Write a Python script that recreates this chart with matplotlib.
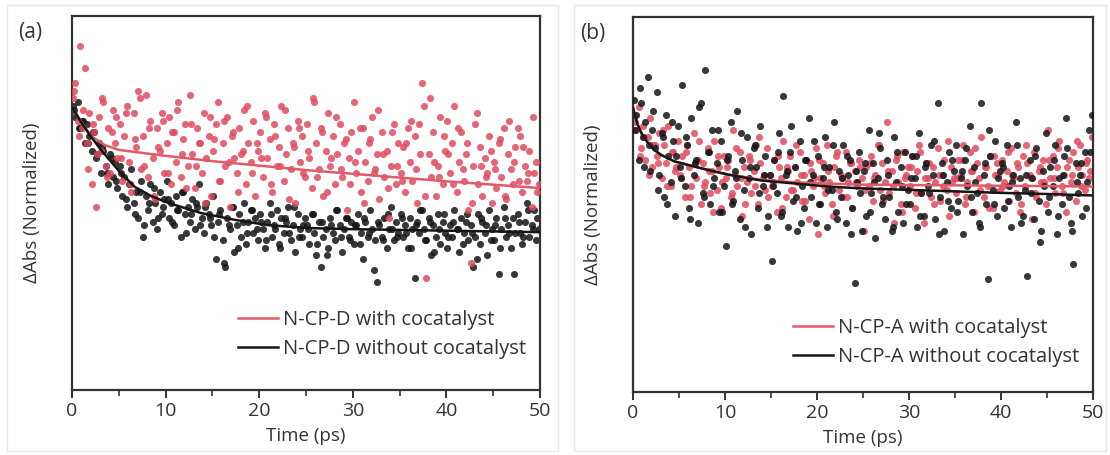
import numpy as np
import matplotlib
matplotlib.use("Agg")
import matplotlib.pyplot as plt
from matplotlib.patches import Rectangle

plt.rcParams['font.family'] = ['Open Sans', 'DejaVu Sans']

# Delay times (ps), main grid
time_ps = [
    0.10, 0.35, 0.60, 0.85, 1.10, 1.35, 1.60, 1.85, 2.10, 2.35,
    2.60, 2.85, 3.10, 3.35, 3.60, 3.85, 4.10, 4.35, 4.60, 4.85,
    5.10, 5.35, 5.60, 5.85, 6.10, 6.35, 6.60, 6.85, 7.10, 7.35,
    7.60, 7.85, 8.10, 8.35, 8.60, 8.85, 9.10, 9.35, 9.60, 9.85,
    10.10, 10.35, 10.60, 10.85, 11.10, 11.35, 11.60, 11.85, 12.10, 12.35,
    12.60, 12.85, 13.10, 13.35, 13.60, 13.85, 14.10, 14.35, 14.60, 14.85,
    15.10, 15.35, 15.60, 15.85, 16.10, 16.35, 16.60, 16.85, 17.10, 17.35,
    17.60, 17.85, 18.10, 18.35, 18.60, 18.85, 19.10, 19.35, 19.60, 19.85,
    20.10, 20.35, 20.60, 20.85, 21.10, 21.35, 21.60, 21.85, 22.10, 22.35,
    22.60, 22.85, 23.10, 23.35, 23.60, 23.85, 24.10, 24.35, 24.60, 24.85,
    25.10, 25.35, 25.60, 25.85, 26.10, 26.35, 26.60, 26.85, 27.10, 27.35,
    27.60, 27.85, 28.10, 28.35, 28.60, 28.85, 29.10, 29.35, 29.60, 29.85,
    30.10, 30.35, 30.60, 30.85, 31.10, 31.35, 31.60, 31.85, 32.10, 32.35,
    32.60, 32.85, 33.10, 33.35, 33.60, 33.85, 34.10, 34.35, 34.60, 34.85,
    35.10, 35.35, 35.60, 35.85, 36.10, 36.35, 36.60, 36.85, 37.10, 37.35,
    37.60, 37.85, 38.10, 38.35, 38.60, 38.85, 39.10, 39.35, 39.60, 39.85,
    40.10, 40.35, 40.60, 40.85, 41.10, 41.35, 41.60, 41.85, 42.10, 42.35,
    42.60, 42.85, 43.10, 43.35, 43.60, 43.85, 44.10, 44.35, 44.60, 44.85,
    45.10, 45.35, 45.60, 45.85, 46.10, 46.35, 46.60, 46.85, 47.10, 47.35,
    47.60, 47.85, 48.10, 48.35, 48.60, 48.85, 49.10, 49.35, 49.60, 49.85,
]

# second (interleaved) delay grid
time_ps2 = [
    0.22, 0.72, 1.22, 1.72, 2.22, 2.72, 3.22, 3.72, 4.22, 4.72,
    5.22, 5.72, 6.22, 6.72, 7.22, 7.72, 8.22, 8.72, 9.22, 9.72,
    10.22, 10.72, 11.22, 11.72, 12.22, 12.72, 13.22, 13.72, 14.22, 14.72,
    15.22, 15.72, 16.22, 16.72, 17.22, 17.72, 18.22, 18.72, 19.22, 19.72,
    20.22, 20.72, 21.22, 21.72, 22.22, 22.72, 23.22, 23.72, 24.22, 24.72,
    25.22, 25.72, 26.22, 26.72, 27.22, 27.72, 28.22, 28.72, 29.22, 29.72,
    30.22, 30.72, 31.22, 31.72, 32.22, 32.72, 33.22, 33.72, 34.22, 34.72,
    35.22, 35.72, 36.22, 36.72, 37.22, 37.72, 38.22, 38.72, 39.22, 39.72,
    40.22, 40.72, 41.22, 41.72, 42.22, 42.72, 43.22, 43.72, 44.22, 44.72,
    45.22, 45.72, 46.22, 46.72, 47.22, 47.72, 48.22, 48.72, 49.22, 49.72,
]

# (a) N-CP-D with cocatalyst
d_with = [
    0.78, 0.82, 0.72, 0.92, 0.70, 0.86, 0.66, 0.74, 0.55, 0.69,
    0.49, 0.73, 0.64, 0.77, 0.60, 0.70, 0.58, 0.75, 0.66, 0.62,
    0.71, 0.56, 0.68, 0.76, 0.61, 0.53, 0.74, 0.65, 0.80, 0.59,
    0.68, 0.79, 0.57, 0.72, 0.62, 0.51, 0.70, 0.64, 0.74, 0.58,
    0.66, 0.73, 0.55, 0.69, 0.61, 0.77, 0.57, 0.67, 0.71, 0.60,
    0.79, 0.63, 0.54, 0.70, 0.66, 0.58, 0.74, 0.62, 0.68, 0.52,
    0.64, 0.71, 0.77, 0.56, 0.66, 0.60, 0.73, 0.49, 0.68, 0.62,
    0.58, 0.70, 0.63, 0.75, 0.55, 0.66, 0.61, 0.72, 0.52, 0.64,
    0.69, 0.57, 0.74, 0.62, 0.67, 0.53, 0.71, 0.60, 0.65, 0.76,
    0.56, 0.63, 0.70, 0.59, 0.66, 0.50, 0.72, 0.61, 0.68, 0.57,
    0.71, 0.62, 0.54, 0.77, 0.66, 0.59, 0.70, 0.52, 0.64, 0.74,
    0.60, 0.68, 0.55, 0.63, 0.71, 0.57, 0.66, 0.48, 0.62, 0.69,
    0.77, 0.58, 0.64, 0.53, 0.70, 0.61, 0.56, 0.67, 0.73, 0.59,
    0.63, 0.51, 0.69, 0.57, 0.64, 0.46, 0.60, 0.71, 0.55, 0.66,
    0.58, 0.65, 0.53, 0.70, 0.61, 0.56, 0.68, 0.50, 0.71, 0.82,
    0.76, 0.30, 0.63, 0.57, 0.69, 0.52, 0.60, 0.73, 0.55, 0.64,
    0.72, 0.58, 0.66, 0.76, 0.53, 0.61, 0.69, 0.56, 0.63, 0.48,
    0.34, 0.60, 0.71, 0.55, 0.65, 0.52, 0.62, 0.58, 0.68, 0.50,
    0.61, 0.54, 0.66, 0.57, 0.70, 0.51, 0.63, 0.59, 0.55, 0.65,
    0.70, 0.68, 0.53, 0.60, 0.56, 0.64, 0.49, 0.58, 0.61, 0.55,
]
d_with2 = [
    0.80, 0.68, 0.75, 0.59, 0.71, 0.63, 0.78, 0.57, 0.69, 0.73,
    0.62, 0.74, 0.55, 0.67, 0.78, 0.60, 0.70, 0.52, 0.65, 0.72,
    0.58, 0.69, 0.75, 0.63, 0.54, 0.71, 0.60, 0.66, 0.50, 0.73,
    0.67, 0.56, 0.72, 0.61, 0.69, 0.53, 0.64, 0.76, 0.58, 0.66,
    0.62, 0.73, 0.55, 0.68, 0.60, 0.75, 0.51, 0.65, 0.70, 0.58,
    0.64, 0.78, 0.57, 0.69, 0.53, 0.62, 0.73, 0.59, 0.67, 0.55,
    0.61, 0.70, 0.50, 0.66, 0.58, 0.75, 0.63, 0.54, 0.69, 0.60,
    0.56, 0.66, 0.72, 0.59, 0.63, 0.52, 0.78, 0.61, 0.57, 0.68,
    0.63, 0.55, 0.70, 0.59, 0.66, 0.50, 0.74, 0.60, 0.57, 0.64,
    0.59, 0.67, 0.52, 0.72, 0.61, 0.56, 0.65, 0.58, 0.73, 0.53,
]

# (a) N-CP-D without cocatalyst
d_without = [
    0.76, 0.73, 0.77, 0.70, 0.72, 0.66, 0.71, 0.68, 0.64, 0.69,
    0.62, 0.66, 0.58, 0.64, 0.60, 0.55, 0.63, 0.57, 0.61, 0.54,
    0.60, 0.52, 0.57, 0.49, 0.55, 0.59, 0.50, 0.53, 0.46, 0.56,
    0.41, 0.52, 0.48, 0.55, 0.45, 0.50, 0.43, 0.53, 0.47, 0.51,
    0.56, 0.46, 0.50, 0.44, 0.52, 0.48, 0.41, 0.53, 0.47, 0.49,
    0.45, 0.51, 0.43, 0.49, 0.55, 0.46, 0.42, 0.50, 0.47, 0.44,
    0.52, 0.35, 0.45, 0.48, 0.40, 0.33, 0.46, 0.43, 0.49, 0.37,
    0.44, 0.47, 0.41, 0.50, 0.39, 0.45, 0.48, 0.42, 0.46, 0.40,
    0.47, 0.43, 0.38, 0.45, 0.50, 0.41, 0.44, 0.48, 0.39, 0.46,
    0.42, 0.45, 0.49, 0.40, 0.44, 0.37, 0.47, 0.43, 0.41, 0.46,
    0.44, 0.39, 0.47, 0.42, 0.36, 0.45, 0.33, 0.41, 0.43, 0.38,
    0.46, 0.42, 0.40, 0.48, 0.44, 0.37, 0.43, 0.46, 0.41, 0.45,
    0.39, 0.44, 0.47, 0.42, 0.35, 0.45, 0.41, 0.48, 0.43, 0.40,
    0.29, 0.44, 0.41, 0.46, 0.38, 0.43, 0.49, 0.40, 0.45, 0.42,
    0.47, 0.41, 0.44, 0.38, 0.46, 0.43, 0.30, 0.45, 0.42, 0.48,
    0.43, 0.40, 0.46, 0.36, 0.44, 0.41, 0.47, 0.39, 0.45, 0.42,
    0.38, 0.44, 0.41, 0.48, 0.43, 0.37, 0.46, 0.42, 0.45, 0.40,
    0.44, 0.33, 0.41, 0.47, 0.39, 0.45, 0.42, 0.36, 0.48, 0.43,
    0.40, 0.46, 0.31, 0.43, 0.49, 0.41, 0.44, 0.38, 0.46, 0.42,
    0.47, 0.42, 0.39, 0.45, 0.50, 0.41, 0.44, 0.48, 0.40, 0.43,
]
d_without2 = [
    0.75, 0.70, 0.72, 0.66, 0.69, 0.63, 0.65, 0.58, 0.62, 0.56,
    0.58, 0.51, 0.55, 0.47, 0.53, 0.44, 0.50, 0.54, 0.46, 0.49,
    0.51, 0.45, 0.48, 0.53, 0.42, 0.47, 0.50, 0.44, 0.49, 0.46,
    0.41, 0.47, 0.34, 0.44, 0.49, 0.38, 0.45, 0.42, 0.48, 0.43,
    0.45, 0.40, 0.47, 0.43, 0.38, 0.46, 0.42, 0.49, 0.41, 0.44,
    0.43, 0.47, 0.39, 0.45, 0.36, 0.44, 0.48, 0.41, 0.46, 0.40,
    0.44, 0.39, 0.46, 0.42, 0.32, 0.45, 0.40, 0.47, 0.43, 0.41,
    0.46, 0.42, 0.38, 0.44, 0.48, 0.40, 0.45, 0.37, 0.43, 0.47,
    0.41, 0.45, 0.43, 0.39, 0.47, 0.42, 0.35, 0.46, 0.44, 0.40,
    0.44, 0.38, 0.46, 0.42, 0.31, 0.45, 0.41, 0.48, 0.43, 0.46,
]

# (b) N-CP-A with cocatalyst
a_with = [
    0.74, 0.70, 0.76, 0.65, 0.71, 0.62, 0.68, 0.73, 0.60, 0.66,
    0.63, 0.69, 0.57, 0.66, 0.61, 0.71, 0.55, 0.64, 0.59, 0.67,
    0.58, 0.63, 0.52, 0.66, 0.60, 0.55, 0.69, 0.57, 0.62, 0.50,
    0.61, 0.56, 0.65, 0.53, 0.59, 0.67, 0.54, 0.60, 0.49, 0.63,
    0.57, 0.62, 0.52, 0.70, 0.58, 0.55, 0.64, 0.47, 0.60, 0.56,
    0.63, 0.53, 0.59, 0.66, 0.50, 0.61, 0.57, 0.54, 0.65, 0.58,
    0.55, 0.62, 0.48, 0.60, 0.57, 0.67, 0.52, 0.59, 0.63, 0.54,
    0.60, 0.56, 0.64, 0.51, 0.58, 0.62, 0.46, 0.59, 0.55, 0.65,
    0.42, 0.57, 0.61, 0.53, 0.66, 0.56, 0.50, 0.60, 0.63, 0.54,
    0.58, 0.52, 0.64, 0.56, 0.61, 0.49, 0.59, 0.55, 0.62, 0.57,
    0.43, 0.60, 0.55, 0.63, 0.51, 0.58, 0.66, 0.54, 0.61, 0.56,
    0.72, 0.53, 0.59, 0.45, 0.62, 0.56, 0.50, 0.64, 0.57, 0.60,
    0.55, 0.63, 0.49, 0.59, 0.66, 0.53, 0.45, 0.61, 0.57, 0.52,
    0.60, 0.56, 0.65, 0.51, 0.58, 0.62, 0.54, 0.47, 0.60, 0.57,
    0.53, 0.62, 0.58, 0.66, 0.50, 0.56, 0.64, 0.59, 0.48, 0.61,
    0.57, 0.68, 0.52, 0.60, 0.55, 0.63, 0.49, 0.58, 0.61, 0.54,
    0.62, 0.56, 0.59, 0.51, 0.65, 0.57, 0.53, 0.60, 0.48, 0.63,
    0.55, 0.61, 0.58, 0.46, 0.64, 0.52, 0.59, 0.56, 0.62, 0.50,
    0.70, 0.57, 0.63, 0.53, 0.60, 0.67, 0.55, 0.58, 0.48, 0.62,
    0.56, 0.64, 0.51, 0.60, 0.66, 0.58, 0.54, 0.62, 0.57, 0.68,
]
a_with2 = [
    0.72, 0.63, 0.68, 0.58, 0.66, 0.61, 0.70, 0.55, 0.64, 0.60,
    0.57, 0.64, 0.52, 0.61, 0.67, 0.55, 0.59, 0.48, 0.63, 0.56,
    0.60, 0.53, 0.65, 0.57, 0.50, 0.62, 0.55, 0.68, 0.58, 0.52,
    0.56, 0.63, 0.49, 0.60, 0.54, 0.66, 0.58, 0.51, 0.61, 0.57,
    0.62, 0.55, 0.59, 0.47, 0.64, 0.57, 0.52, 0.61, 0.56, 0.60,
    0.54, 0.61, 0.57, 0.66, 0.51, 0.59, 0.55, 0.63, 0.48, 0.58,
    0.60, 0.53, 0.64, 0.57, 0.61, 0.50, 0.58, 0.55, 0.67, 0.56,
    0.57, 0.62, 0.52, 0.59, 0.65, 0.54, 0.60, 0.49, 0.63, 0.58,
    0.55, 0.64, 0.58, 0.61, 0.50, 0.66, 0.57, 0.53, 0.60, 0.56,
    0.62, 0.57, 0.65, 0.53, 0.60, 0.58, 0.67, 0.55, 0.61, 0.59,
]

# (b) N-CP-A without cocatalyst
a_without = [
    0.78, 0.74, 0.62, 0.77, 0.68, 0.72, 0.84, 0.59, 0.70, 0.65,
    0.80, 0.58, 0.69, 0.52, 0.74, 0.63, 0.56, 0.67, 0.47, 0.71,
    0.60, 0.82, 0.55, 0.66, 0.49, 0.73, 0.58, 0.62, 0.45, 0.77,
    0.53, 0.86, 0.64, 0.50, 0.70, 0.57, 0.61, 0.48, 0.67, 0.55,
    0.39, 0.63, 0.72, 0.51, 0.59, 0.75, 0.46, 0.62, 0.54, 0.68,
    0.57, 0.42, 0.65, 0.60, 0.49, 0.71, 0.55, 0.63, 0.44, 0.58,
    0.35, 0.62, 0.53, 0.69, 0.47, 0.79, 0.58, 0.44, 0.64, 0.51,
    0.60, 0.43, 0.67, 0.55, 0.49, 0.62, 0.73, 0.52, 0.58, 0.45,
    0.63, 0.50, 0.57, 0.68, 0.44, 0.60, 0.54, 0.72, 0.48, 0.59,
    0.52, 0.66, 0.45, 0.58, 0.62, 0.49, 0.29, 0.56, 0.64, 0.43,
    0.59, 0.47, 0.70, 0.53, 0.61, 0.41, 0.57, 0.65, 0.50, 0.46,
    0.62, 0.52, 0.43, 0.68, 0.56, 0.48, 0.60, 0.45, 0.64, 0.54,
    0.50, 0.63, 0.57, 0.44, 0.69, 0.53, 0.47, 0.61, 0.55, 0.66,
    0.58, 0.46, 0.77, 0.52, 0.61, 0.43, 0.56, 0.64, 0.49, 0.59,
    0.66, 0.51, 0.57, 0.42, 0.62, 0.55, 0.71, 0.48, 0.60, 0.53,
    0.45, 0.77, 0.58, 0.50, 0.30, 0.63, 0.54, 0.67, 0.47, 0.59,
    0.61, 0.49, 0.66, 0.55, 0.44, 0.58, 0.72, 0.52, 0.57, 0.47,
    0.54, 0.31, 0.62, 0.57, 0.46, 0.65, 0.51, 0.43, 0.59, 0.69,
    0.48, 0.60, 0.55, 0.66, 0.42, 0.57, 0.50, 0.63, 0.73, 0.52,
    0.45, 0.34, 0.61, 0.53, 0.58, 0.47, 0.64, 0.56, 0.70, 0.74,
]
a_without2 = [
    0.70, 0.81, 0.60, 0.66, 0.75, 0.54, 0.68, 0.50, 0.72, 0.63,
    0.57, 0.68, 0.46, 0.61, 0.76, 0.52, 0.64, 0.55, 0.70, 0.48,
    0.62, 0.50, 0.57, 0.69, 0.44, 0.60, 0.66, 0.53, 0.58, 0.47,
    0.55, 0.64, 0.48, 0.59, 0.71, 0.52, 0.45, 0.62, 0.56, 0.67,
    0.50, 0.60, 0.54, 0.66, 0.46, 0.57, 0.63, 0.42, 0.59, 0.53,
    0.61, 0.48, 0.56, 0.69, 0.52, 0.58, 0.44, 0.64, 0.55, 0.50,
    0.57, 0.63, 0.47, 0.60, 0.53, 0.67, 0.42, 0.58, 0.51, 0.62,
    0.48, 0.59, 0.65, 0.52, 0.56, 0.44, 0.61, 0.70, 0.50, 0.57,
    0.60, 0.51, 0.56, 0.66, 0.45, 0.58, 0.53, 0.63, 0.40, 0.55,
    0.52, 0.62, 0.47, 0.58, 0.65, 0.43, 0.56, 0.61, 0.49, 0.64,
]

# Fit curves
fit_t_a = [0, 1, 2, 3.5, 5, 10, 15, 20, 25, 30, 35, 40, 45, 50]
fit_d_with = [0.754, 0.717, 0.68, 0.655, 0.642, 0.626, 0.612, 0.60, 0.588, 0.578, 0.568, 0.558, 0.549, 0.540]
fit_t_a2 = [0, 0.32, 1, 2, 3.1, 5, 6.7, 8.5, 10.3, 13.8, 17.4, 20.9, 25.2, 30, 35, 40, 50]
fit_d_without = [0.754, 0.743, 0.715, 0.678, 0.642, 0.586, 0.543, 0.518, 0.500, 0.473, 0.455, 0.441, 0.433, 0.430, 0.428, 0.426, 0.422]

fit_t_b = [0, 0.25, 0.5, 1, 1.6, 2.2, 3, 4.5, 6.7, 8.5, 10.3, 13.9, 17.6, 21.2, 24.8, 30, 35, 40, 45, 50]
fit_a_without = [0.758, 0.735, 0.713, 0.686, 0.665, 0.648, 0.633, 0.615, 0.601, 0.590, 0.580, 0.564, 0.556, 0.548, 0.543, 0.539, 0.535, 0.531, 0.528, 0.524]
fit_a_with = [0.758, 0.735, 0.713, 0.686, 0.665, 0.648, 0.633, 0.615, 0.601, 0.590, 0.580, 0.566, 0.559, 0.556, 0.553, 0.552, 0.551, 0.550, 0.549, 0.548]

red = '#e04a5e'
red_line = '#e25a68'
black = '#151515'
txt = '#333333'

fig = plt.figure(figsize=(11.1, 4.55), dpi=100)
# light panel frames
for x0, w in [(0.006, 0.497), (0.517, 0.479)]:
    fig.patches.append(Rectangle((x0, 0.008), w, 0.982, transform=fig.transFigure,
                                 fill=False, edgecolor='#e8e8e8', linewidth=1.0))

ax1 = fig.add_axes([0.0649, 0.1429, 0.4216, 0.8219])
ax2 = fig.add_axes([0.5703, 0.1385, 0.4144, 0.8241])

panels = [
    (ax1, '(a)', [d_with, d_with2], [d_without, d_without2], fit_t_a, fit_d_with,
     fit_t_a2, fit_d_without, 'N-CP-D with cocatalyst', 'N-CP-D without cocatalyst', 0.035),
    (ax2, '(b)', [a_with, a_with2], [a_without, a_without2], fit_t_b, fit_a_with,
     fit_t_b, fit_a_without, 'N-CP-A with cocatalyst', 'N-CP-A without cocatalyst', 0.018),
]

ms = 26
for ax, tag, y_red, y_blk, tr, fr, tb, fb, lab_r, lab_b, leg_y in panels:
    z_red, z_blk = (3, 2) if tag == '(a)' else (2, 3)
    for tt, yr, yb in [(time_ps, y_red[0], y_blk[0]), (time_ps2, y_red[1], y_blk[1])]:
        ax.scatter(tt, yb, s=ms, color=black, alpha=0.85, linewidths=0, zorder=z_blk)
        ax.scatter(tt, yr, s=ms, color=red, alpha=0.85, linewidths=0, zorder=z_red)
    ax.plot(tr, fr, color=red_line, lw=1.8, label=lab_r, zorder=4)
    ax.plot(tb, fb, color=black, lw=1.8, label=lab_b, zorder=5)

    ax.set_xlim(0, 50)
    ax.set_ylim(0, 1)
    ax.set_xticks([0, 10, 20, 30, 40, 50])
    ax.set_xticks([5, 15, 25, 35, 45], minor=True)
    ax.set_yticks([])
    ax.tick_params(axis='x', which='major', direction='out', length=6, width=1.4,
                   labelsize=14, colors=txt, pad=3)
    ax.tick_params(axis='x', which='minor', direction='out', length=4, width=1.2,
                   colors=txt)
    for sp in ax.spines.values():
        sp.set_linewidth(1.6)
        sp.set_color(txt)
    ax.set_xlabel('Time (ps)', fontsize=13.5, color=txt, labelpad=5)
    ax.set_ylabel('ΔAbs (Normalized)', fontsize=13.5, color=txt, labelpad=22)
    ax.text(-0.115, 0.985, tag, transform=ax.transAxes, fontsize=15, color=txt,
            ha='left', va='top')
    ax.legend(loc='lower right', bbox_to_anchor=(1.01, leg_y), frameon=False,
              fontsize=14.5, handlelength=2.0, handletextpad=0.25, labelspacing=0.45,
              labelcolor=txt)

fig.savefig('out.png', dpi=100)
